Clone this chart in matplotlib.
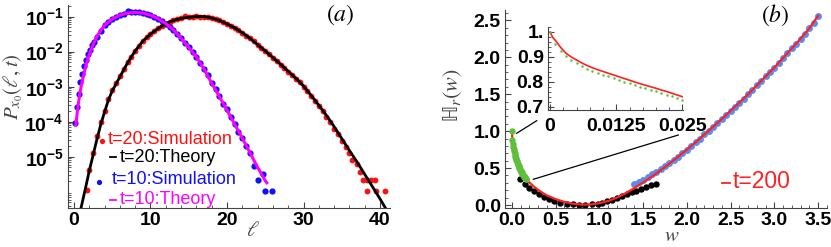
import numpy as np
import matplotlib
matplotlib.use("Agg")
import matplotlib.pyplot as plt
from matplotlib.lines import Line2D
from matplotlib.ticker import AutoMinorLocator, LogLocator, NullFormatter

plt.rcParams["font.family"] = ["Liberation Sans", "DejaVu Sans"]
plt.rcParams["font.weight"] = "bold"
plt.rcParams["mathtext.fontset"] = "custom"
plt.rcParams["mathtext.rm"] = "STIXGeneral:weight=normal"
plt.rcParams["mathtext.it"] = "STIXGeneral:style=italic:weight=normal"
plt.rcParams["mathtext.bf"] = "Liberation Sans:weight=bold"
plt.rcParams["mathtext.fallback"] = "stix"

# ---- panel (a): log10 of P_x0(l, t) ----
ell20_th = [0.92, 1.5, 2, 2.5, 3, 3.5, 4, 4.5, 5, 6, 7, 8, 9, 10, 11, 12, 13, 14, 15, 16, 17, 18, 19, 20,
            21, 22, 23, 24, 25, 26, 27, 28, 29, 30, 31, 32, 33, 34, 35, 36, 37, 38, 39, 40, 40.7]
log20_th = [-6.46, -5.9, -5.4, -4.95, -4.5, -4.08, -3.72, -3.38, -3.12, -2.72, -2.32, -1.98, -1.7, -1.5,
            -1.34, -1.2, -1.11, -1.05, -1.02, -1.0, -1.0, -1.04, -1.11, -1.21, -1.32, -1.46, -1.62, -1.8,
            -1.98, -2.17, -2.36, -2.56, -2.76, -2.98, -3.25, -3.53, -3.82, -4.14, -4.48, -4.82, -5.15,
            -5.5, -5.85, -6.2, -6.46]

ell20_sim = [1.66, 2.0, 2.5, 3.0, 3.5, 4.0, 4.5, 5.0, 5.5, 6.0, 6.5, 7.0, 7.5, 8.0, 8.5, 9.0, 9.5, 10.0,
             10.5, 11.0, 11.5, 12.0, 12.5, 13.0, 13.5, 14.0, 14.5, 15.0, 15.5, 16.0, 16.5, 17.0, 17.5,
             18.0, 18.5, 19.0, 19.5, 20.0, 20.5, 21.0, 21.5, 22.0, 22.5, 23.0, 23.5, 24.0, 24.5, 25.0,
             25.5, 26.0, 26.5, 27.0, 27.5, 28.0, 28.5, 29.0, 29.5, 30.0, 30.5, 31.0, 31.5, 32.0, 32.5,
             33.0, 33.5, 34.0, 34.5, 35.0, 35.5, 36.0, 36.3, 37.0, 37.4, 37.8, 38.3, 38.8, 39.3,
             38.3, 39.5, 40.6]
log20_sim = [-5.96, -5.37, -4.9, -4.42, -4.0, -3.68, -3.36, -3.1, -2.9, -2.7, -2.5, -2.31, -2.14, -1.97,
             -1.83, -1.69, -1.59, -1.49, -1.41, -1.33, -1.27, -1.2, -1.15, -1.1, -1.07, -1.05, -0.97,
             -1.02, -1.0, -0.99, -1.0, -1.0, -1.02, -1.04, -1.07, -1.11, -1.16, -1.21, -1.26, -1.32,
             -1.39, -1.46, -1.54, -1.62, -1.71, -1.8, -1.89, -1.98, -2.08, -2.17, -2.27, -2.37, -2.47,
             -2.57, -2.67, -2.78, -2.88, -3.0, -3.13, -3.27, -3.4, -3.55, -3.69, -3.86, -4.02, -4.2,
             -4.35, -4.55, -4.72, -4.9, -5.09, -5.2, -5.42, -5.66, -5.66, -5.66, -5.66,
             -5.97, -5.97, -5.97]

ell10_th = [0.25, 0.5, 0.75, 1.0, 1.5, 2, 2.5, 3, 3.5, 4, 5, 6, 7, 8, 9, 10, 11, 12, 13, 14, 15, 16, 17,
            18, 19, 20, 21, 22, 23, 24, 25, 25.2]
log10_th = [-4.09, -3.6, -3.22, -2.92, -2.45, -2.08, -1.8, -1.57, -1.39, -1.25, -1.07, -0.96, -0.9,
            -0.88, -0.9, -0.96, -1.06, -1.2, -1.38, -1.62, -1.88, -2.15, -2.5, -2.9, -3.28, -3.67,
            -4.07, -4.47, -4.88, -5.3, -5.68, -5.74]

ell10_sim = [0.1, 0.35, 0.6, 0.85, 1.1, 1.35, 1.6, 1.85, 2.1, 2.35, 2.6, 3.0, 3.5, 4.0, 4.5, 5.0, 5.5,
             6.0, 6.5, 7.0, 7.5, 8.0, 8.5, 9.0, 9.5, 10.0, 10.5, 11.0, 11.5, 12.0, 12.5, 13.0, 13.5,
             14.0, 14.5, 15.0, 15.5, 16.0, 16.5, 17.0, 17.5, 18.0, 18.5, 19.0, 19.5, 20.0, 20.5, 21.0,
             21.5, 22.0, 22.5, 23.0, 23.5, 24.1, 24.7, 25.0, 25.9]
log10_sim = [-4.04, -3.58, -3.2, -2.88, -2.64, -2.42, -2.25, -2.08, -1.94, -1.82, -1.72, -1.57, -1.4,
             -1.25, -1.15, -1.06, -1.0, -0.95, -0.92, -0.85, -0.87, -0.87, -0.88, -0.9, -0.93, -0.96,
             -1.0, -1.06, -1.12, -1.2, -1.29, -1.38, -1.49, -1.61, -1.74, -1.88, -2.0, -2.15, -2.32,
             -2.5, -2.68, -2.9, -3.07, -3.26, -3.48, -3.64, -3.87, -4.05, -4.3, -4.45, -4.7, -4.9,
             -5.25, -5.66, -5.49, -5.97, -5.97]

# ---- panel (b): H_r(w) ----
w_th = [0, 0.0005, 0.001, 0.002, 0.003, 0.004, 0.005, 0.006, 0.007, 0.008, 0.009, 0.010, 0.011, 0.012,
        0.013, 0.014, 0.015, 0.016, 0.017, 0.018, 0.019, 0.020, 0.021, 0.022, 0.023, 0.024, 0.025,
        0.035, 0.05, 0.07, 0.1, 0.13, 0.16, 0.2, 0.25, 0.3, 0.35, 0.4, 0.5, 0.6, 0.7, 0.8, 0.9, 1.0,
        1.1, 1.2, 1.3, 1.4, 1.5, 1.6, 1.7, 1.8, 1.9, 2.0, 2.1, 2.2, 2.3, 2.4, 2.5, 2.6, 2.7, 2.8, 2.9,
        3.0, 3.1, 3.2, 3.3, 3.4, 3.5]
H_th = [1.0, 0.978, 0.966, 0.938, 0.915, 0.900, 0.888, 0.876, 0.866, 0.857, 0.849, 0.842, 0.835, 0.828,
        0.821, 0.814, 0.807, 0.800, 0.793, 0.787, 0.781, 0.775, 0.768, 0.762, 0.755, 0.748, 0.741,
        0.69, 0.63, 0.56, 0.475, 0.41, 0.36, 0.305, 0.25, 0.205, 0.165, 0.13, 0.08, 0.042, 0.018,
        0.006, 0.008, 0.025, 0.055, 0.1, 0.16, 0.23, 0.305, 0.385, 0.47, 0.56, 0.655, 0.75, 0.85,
        0.955, 1.06, 1.165, 1.275, 1.385, 1.5, 1.62, 1.74, 1.86, 1.99, 2.12, 2.25, 2.39, 2.56]

w_green = [0, 0.005, 0.01, 0.015, 0.02, 0.025, 0.03, 0.035, 0.04, 0.045, 0.05, 0.055, 0.06, 0.065,
           0.07, 0.075, 0.08, 0.085, 0.09, 0.095, 0.1, 0.105, 0.11, 0.115, 0.12, 0.125, 0.13, 0.135,
           0.14, 0.145, 0.15, 0.155, 0.16]
H_green = [1.0, 0.875, 0.826, 0.79, 0.757, 0.727, 0.70, 0.675, 0.652, 0.632, 0.613, 0.594, 0.577,
           0.561, 0.545, 0.53, 0.516, 0.503, 0.49, 0.478, 0.466, 0.454, 0.443, 0.432, 0.421, 0.411,
           0.401, 0.392, 0.383, 0.374, 0.366, 0.358, 0.35]

w_black = [0.09, 0.144, 0.2, 0.256, 0.31, 0.367, 0.42, 0.48, 0.55, 0.63, 0.7, 0.77, 0.84, 0.92, 0.98,
           1.03, 1.09, 1.14, 1.2, 1.26, 1.31, 1.37, 1.42, 1.48, 1.53, 1.59, 1.65]
H_black = [0.347, 0.29, 0.23, 0.185, 0.15, 0.11, 0.08, 0.056, 0.032, 0.018, 0.01, 0.004, 0.003, 0.01,
           0.02, 0.032, 0.05, 0.07, 0.1, 0.12, 0.15, 0.17, 0.19, 0.22, 0.25, 0.27, 0.28]

w_blue = [1.39, 1.45, 1.5, 1.55, 1.6, 1.65, 1.7, 1.75, 1.8, 1.85, 1.9, 1.95, 2.0, 2.05, 2.1, 2.15, 2.2,
          2.25, 2.3, 2.35, 2.4, 2.45, 2.5, 2.55, 2.6, 2.65, 2.7, 2.75, 2.8, 2.85, 2.9, 2.95, 3.0, 3.05,
          3.1, 3.15, 3.2, 3.25, 3.3, 3.35, 3.4, 3.45, 3.5]
H_blue = [0.28, 0.315, 0.345, 0.38, 0.415, 0.45, 0.49, 0.53, 0.57, 0.61, 0.655, 0.7, 0.75, 0.8, 0.85,
          0.9, 0.955, 1.005, 1.06, 1.11, 1.165, 1.22, 1.275, 1.33, 1.385, 1.44, 1.5, 1.56, 1.62,
          1.68, 1.74, 1.8, 1.86, 1.925, 1.99, 2.055, 2.12, 2.185, 2.25, 2.32, 2.39, 2.47, 2.56]

w_green_in = [0, 0.001, 0.002, 0.003, 0.004, 0.005, 0.006, 0.007, 0.008, 0.009, 0.010, 0.011, 0.012,
              0.013, 0.014, 0.015, 0.016, 0.017, 0.018, 0.019, 0.020, 0.021, 0.022, 0.023, 0.024, 0.025]
H_green_in = [1.0, 0.953, 0.924, 0.902, 0.887, 0.875, 0.863, 0.853, 0.844, 0.836, 0.829, 0.822, 0.815,
              0.808, 0.801, 0.794, 0.787, 0.78, 0.774, 0.768, 0.762, 0.755, 0.749, 0.742, 0.735, 0.728]

xticks_a = [0, 10, 20, 30, 40]
yticks_a = [1e-1, 1e-2, 1e-3, 1e-4, 1e-5]
xticks_b = [0.0, 0.5, 1.0, 1.5, 2.0, 2.5, 3.0, 3.5]
yticks_b = [0.0, 0.5, 1.0, 1.5, 2.0, 2.5]
xticks_in = [0, 0.0125, 0.025]
yticks_in = [0.7, 0.8, 0.9, 1.0]

W, H = 831, 247
AX = "#444444"


def rect(l, t, r, b):
    return [l / W, 1 - b / H, (r - l) / W, (b - t) / H]


def px(x, y):
    return x / W, 1 - y / H


def style_axes(ax):
    for s in ("top", "right"):
        ax.spines[s].set_visible(False)
    for s in ("left", "bottom"):
        ax.spines[s].set_color(AX)
        ax.spines[s].set_linewidth(0.8)
    ax.tick_params(which="both", direction="in", color=AX, pad=3, labelsize=14)
    ax.tick_params(which="major", length=4, width=0.8)
    ax.tick_params(which="minor", length=2, width=0.6)


def dash(x0, x1, y, color):
    fig.add_artist(Line2D([x0 / W, x1 / W], [1 - y / H] * 2, color=color, lw=1.3,
                          transform=fig.transFigure))


def dot(x, y, color):
    fig.add_artist(Line2D([x / W], [1 - y / H], marker="o", color=color, ms=3.8, mec="none",
                          transform=fig.transFigure))


fig = plt.figure(figsize=(W / 100, H / 100), dpi=100)
plain = dict(fontweight="normal")

# ---- (a) ----
axA = fig.add_axes(rect(68, 5, 390, 208))
axA.set_yscale("log")
axA.plot(ell20_sim, 10 ** np.array(log20_sim), "o", color="#ff1010", ms=4.2, mec="none", zorder=2)
axA.plot(ell20_th, 10 ** np.array(log20_th), "-", color="black", lw=2.0, zorder=3)
axA.plot(ell10_sim, 10 ** np.array(log10_sim), "o", color="#1010ff", ms=4.5, mec="none", zorder=2)
axA.plot(ell10_th, 10 ** np.array(log10_th), "-", color="#ff00ff", lw=2.2, zorder=3)
axA.set_xlim(-0.78, 41.3)
axA.set_ylim(10 ** -6.46, 10 ** -0.67)
axA.set_xticks(xticks_a, [str(v) for v in xticks_a])
axA.set_yticks(yticks_a, [r"$\mathbf{10^{-%d}}$" % k for k in range(1, 6)])
axA.xaxis.set_minor_locator(AutoMinorLocator(5))
axA.yaxis.set_minor_locator(LogLocator(base=10, subs=np.arange(2, 10), numticks=20))
axA.yaxis.set_minor_formatter(NullFormatter())
style_axes(axA)

# legend of (a)
leg_kw = dict(fontsize=13, va="center", **plain)
dot(101.7, 140.7, "#ff1010")
fig.text(*px(108, 139), "t=20:Simulation", color="#ff1010", **leg_kw)
dash(110, 116, 157, "black")
fig.text(*px(120, 157), "t=20:Theory", color="black", **leg_kw)
dot(99.3, 182, "#1010ff")
fig.text(*px(111.5, 180), "t=10:Simulation", color="#1010ff", **leg_kw)
dash(110, 116, 199.5, "#ff00ff")
fig.text(*px(120, 199), "t=10:Theory", color="#ff00ff", **leg_kw)

fig.text(*px(340, 15), r"$(a)$", fontsize=17, ha="center", va="center", **plain)
fig.text(*px(253, 230), r"$\ell$", fontsize=15, ha="center", va="center", color=AX, **plain)
fig.text(*px(13, 87), r"$P_{x_0}(\ell,t)$", fontsize=15, rotation=90, ha="center", va="center",
         color=AX, **plain)

# ---- (b) ----
axB = fig.add_axes(rect(505, 10, 827, 208))
axB.plot(w_th, H_th, "-", color="#ff2020", lw=1.6, zorder=3)
axB.plot(w_black, H_black, "o", color="black", ms=4.6, mec="none", zorder=2)
axB.plot(w_green, H_green, "o", color="#5fbf3a", ms=4.6, mec="none", zorder=4)
axB.plot(w_blue, H_blue, "o", color="#5a8dee", ms=5.0, mec="none", zorder=2, clip_on=False)
axB.set_xlim(-0.080, 3.603)
axB.set_ylim(-0.04, 2.64)
axB.set_xticks(xticks_b, ["%.1f" % v for v in xticks_b])
axB.set_yticks(yticks_b, ["%.1f" % v for v in yticks_b])
axB.xaxis.set_minor_locator(AutoMinorLocator(5))
axB.yaxis.set_minor_locator(AutoMinorLocator(5))
style_axes(axB)

dash(722, 730, 182.7, "#ff2020")
fig.text(*px(733, 181.7), "t=200", color="#ff2020", fontsize=16.5, va="center", **plain)
fig.text(*px(775, 15), r"$(b)$", fontsize=17, ha="center", va="center", **plain)
fig.text(*px(672, 235), r"$w$", fontsize=15, ha="center", va="center", color=AX, **plain)
fig.text(*px(453, 95), r"$\mathrm{ℍ}_r(w)$", fontsize=16, rotation=90, ha="center", va="center",
         color=AX, **plain)

# connector lines to the inset
fig.add_artist(Line2D([516.7 / W, 536.7 / W], [1 - 133.3 / H, 1 - 120.7 / H], color="black", lw=0.9,
                      transform=fig.transFigure))
fig.add_artist(Line2D([533.3 / W, 678.3 / W], [1 - 179.3 / H, 1 - 135 / H], color="black", lw=0.9,
                      transform=fig.transFigure))

# ---- inset ----
axI = fig.add_axes(rect(548, 27, 683, 110))
axI.patch.set_alpha(0)
axI.plot(w_th[:27], H_th[:27], "-", color="#ff2020", lw=1.2)
axI.plot(w_green_in, H_green_in, "o", color="#5fbf3a", ms=1.8, mec="none")
axI.set_xlim(-0.0004, 0.0251)
axI.set_ylim(0.688, 1.02)
axI.set_xticks(xticks_in, ["0", "0.0125", "0.025"])
axI.set_yticks(yticks_in, ["0.7", "0.8", "0.9", "1."])
axI.xaxis.set_minor_locator(AutoMinorLocator(5))
axI.yaxis.set_minor_locator(AutoMinorLocator(5))
style_axes(axI)
axI.tick_params(axis="x", pad=6)

fig.savefig("out.png", dpi=100)
